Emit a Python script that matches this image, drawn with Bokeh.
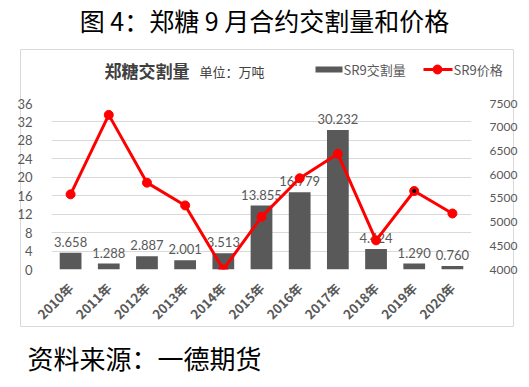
from bokeh.plotting import figure
from bokeh.models import (Range1d, FactorRange, LinearAxis, FixedTicker, Label,
                          ColumnDataSource)
from bokeh.layouts import column, row
from bokeh.embed import file_html
from bokeh.resources import INLINE
from bokeh.core.properties import value
import math

years = ["2010年", "2011年", "2012年", "2013年", "2014年", "2015年",
         "2016年", "2017年", "2018年", "2019年", "2020年"]
volume = [3.658, 1.288, 2.887, 2.001, 3.513, 13.855, 16.779, 30.232, 4.424, 1.290, 0.760]
price = [5585, 7260, 5831, 5351, 4000, 5110, 5924, 6439, 4615, 5655, 5181]
vol_labels = ["3.658", "1.288", "2.887", "2.001", "3.513", "13.855", "16.779",
              "30.232", "4.424", "1.290", "0.760"]
left_ticks = [0, 4, 8, 12, 16, 20, 24, 28, 32, 36]
right_ticks = [4000, 4500, 5000, 5500, 6000, 6500, 7000, 7500]
legend_labels = ["SR9交割量", "SR9价格"]

W, H = 520, 380
FL, FR, FT, FB = 51, 472, 103, 269   # frame edges in canvas px

CJK = "Noto Sans CJK SC"
NUM = "Lato"
GRAY = "#595959"
RED = "#ff0000"

# ---------------- decoration layer (frame = whole canvas, y downwards) -------------
d = figure(width=W, height=H, output_backend="svg", toolbar_location=None,
           x_range=Range1d(0, W), y_range=Range1d(H, 0),
           x_axis_type=None, y_axis_type=None,
           min_border=0, min_border_left=0, min_border_right=0,
           min_border_top=0, min_border_bottom=0)
d.outline_line_color = None
d.xgrid.grid_line_color = None
d.ygrid.grid_line_color = None
d.background_fill_color = "white"
d.border_fill_color = "white"

# outer chart box
d.quad(left=20, right=513, top=49, bottom=326, fill_color=None,
       line_color="#d9d9d9", line_width=1)

d.add_layout(Label(x=264, y=19, text="图 4：郑糖 9 月合约交割量和价格", text_align="center",
                   text_baseline="middle", text_font=CJK, text_font_size="25px",
                   text_color="#000000"))
d.add_layout(Label(x=104, y=70, text="郑糖交割量", text_align="left", text_baseline="middle",
                   text_font=CJK, text_font_size="17px", text_font_style="bold",
                   text_color="#404040"))
d.add_layout(Label(x=199, y=71, text="单位：万吨", text_align="left", text_baseline="middle",
                   text_font=CJK, text_font_size="13px", text_color="#404040"))
d.add_layout(Label(x=27, y=357, text="资料来源：一德期货", text_align="left",
                   text_baseline="middle", text_font=CJK, text_font_size="26px",
                   text_color="#000000"))

# legend symbols
d.quad(left=315, right=342, top=66, bottom=72, fill_color=GRAY, line_color=None)
d.segment(x0=423, y0=69, x1=452, y1=69, line_color=RED, line_width=3)
d.scatter(x=[437], y=[69], size=9, fill_color=RED, line_color=RED)
d.add_layout(Label(x=343, y=69, text=legend_labels[0], text_align="left",
                   text_baseline="middle", text_font=CJK, text_font_size="13px",
                   text_color=GRAY))
d.add_layout(Label(x=453, y=69, text=legend_labels[1], text_align="left",
                   text_baseline="middle", text_font=CJK, text_font_size="13px",
                   text_color=GRAY))

# ---------------- chart layer ----------------
p = figure(width=W, height=H, output_backend="svg", toolbar_location=None,
           x_range=FactorRange(factors=years, range_padding=0),
           y_range=Range1d(0, 36),
           min_border_left=FL, min_border_right=W - FR,
           min_border_top=FT, min_border_bottom=H - FB)
p.extra_y_ranges = {"price": Range1d(4000, 7500)}
p.outline_line_color = None
p.background_fill_alpha = 0
p.border_fill_alpha = 0

src = ColumnDataSource(dict(x=years, v=volume, p=price, lab=vol_labels))

p.vbar(x="x", top="v", width=0.57, source=src, fill_color=GRAY, line_color=None)
p.text(x="x", y="v", text="lab", source=src, text_align="center", text_baseline="bottom",
       y_offset=-6, text_font=value(NUM), text_font_size="13px", text_color=GRAY)
p.line(x="x", y="p", source=src, y_range_name="price", line_color=RED, line_width=3)
p.scatter(x="x", y="p", source=src, y_range_name="price", size=9,
          fill_color=RED, line_color=RED)
p.scatter(x=[years[9]], y=[price[9]], y_range_name="price", size=4,
          fill_color="#000000", line_color=None)

# axes
p.yaxis.ticker = FixedTicker(ticks=left_ticks)
ax_r = LinearAxis(y_range_name="price", ticker=FixedTicker(ticks=right_ticks))
p.add_layout(ax_r, "right")
for ax in [p.yaxis[0], ax_r]:
    ax.axis_line_color = None
    ax.major_tick_line_color = None
    ax.minor_tick_line_color = None
    ax.major_label_text_font = NUM
    ax.major_label_text_color = GRAY
p.yaxis[0].major_label_text_font_size = "13px"
p.yaxis[0].major_label_standoff = 13
ax_r.major_label_text_font_size = "12px"
ax_r.major_label_standoff = 12

xa = p.xaxis[0]
xa.axis_line_color = None
xa.major_tick_line_color = None
xa.minor_tick_line_color = None
xa.major_label_orientation = math.pi / 4
xa.major_label_text_font = CJK
xa.major_label_text_font_style = "bold"
xa.major_label_text_font_size = "13px"
xa.major_label_text_color = GRAY
xa.major_label_standoff = 10

p.xgrid.grid_line_color = None
p.ygrid.grid_line_color = "#d9d9d9"
p.ygrid.grid_line_width = 1

layout = column(d, row(p, margin=(-H, 0, 0, 0)))
open("out.html", "w").write(file_html(layout, INLINE))
